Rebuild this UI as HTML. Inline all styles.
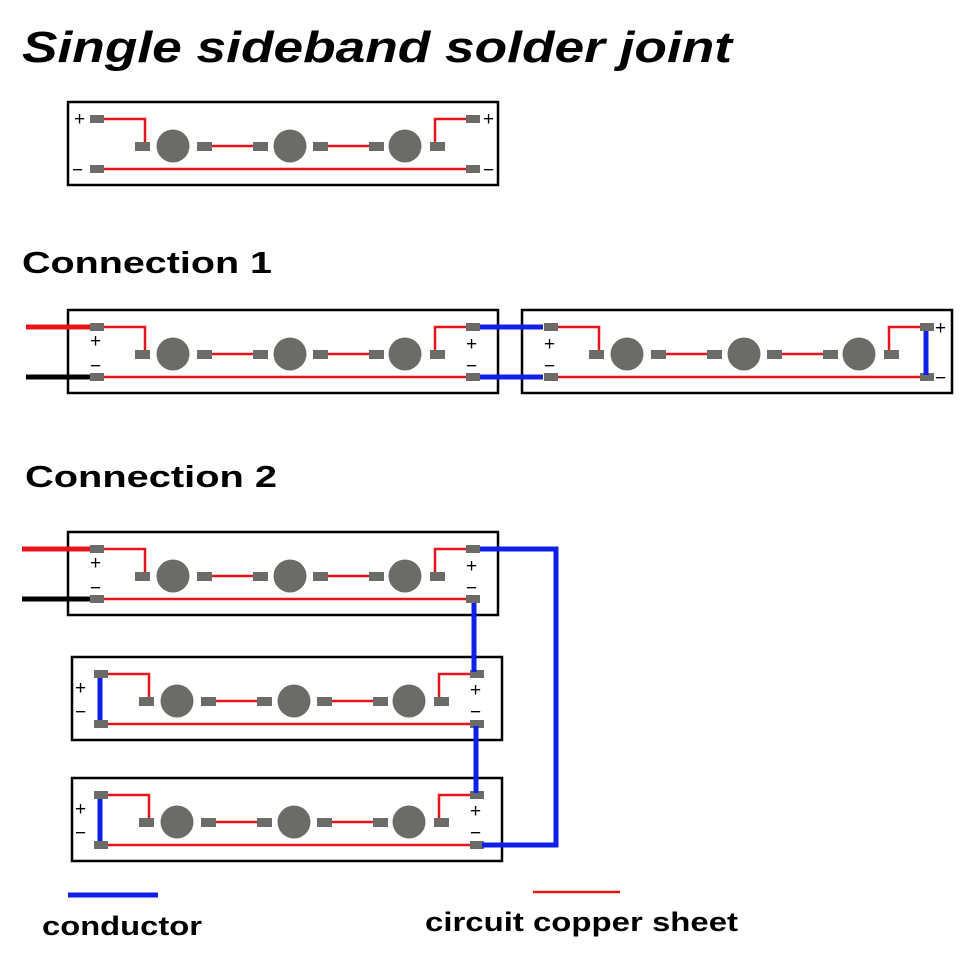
<!DOCTYPE html>
<html><head><meta charset="utf-8"><style>
body{margin:0;background:#fff;}
svg{display:block;}
.t{font-family:"Liberation Sans","DejaVu Sans",sans-serif;font-weight:bold;fill:#000;}
.s{font-family:"Liberation Sans",sans-serif;font-size:19px;fill:#000;}
</style></head><body>
<svg width="960" height="960" viewBox="0 0 960 960" xmlns="http://www.w3.org/2000/svg">
<defs>
<g id="strip">
<rect x="0" y="0" width="430" height="83" fill="#fff" stroke="#000" stroke-width="2.5"/>
<g fill="none" stroke="#e8141b" stroke-width="2.5">
<path d="M36,17 H77 V40"/><path d="M143,44 H185"/><path d="M260,44 H301"/><path d="M367,40 V17 H398"/><path d="M36,67 H398"/>
</g>
<g fill="#6b6b68">
<rect x="22" y="13" width="14" height="8"/><rect x="67" y="40" width="15" height="9"/><rect x="129" y="40" width="15" height="9"/><rect x="185" y="40" width="15" height="9"/><rect x="245" y="40" width="15" height="9"/><rect x="301" y="40" width="15" height="9"/><rect x="362" y="40" width="15" height="9"/><rect x="398" y="13" width="14" height="8"/><rect x="22" y="63" width="14" height="8"/><rect x="398" y="63" width="14" height="8"/>
<circle cx="105" cy="44" r="16.5"/><circle cx="222" cy="44" r="16.5"/><circle cx="337" cy="44" r="16.5"/>
</g>
</g>
</defs>

<text class="t" x="22" y="62" font-size="44" font-style="italic" textLength="710" lengthAdjust="spacingAndGlyphs">Single sideband solder joint</text>

<use href="#strip" x="68" y="102"/>
<text class="s" x="74" y="125">+</text><text class="s" x="72" y="176">−</text>
<text class="s" x="483" y="125">+</text><text class="s" x="483" y="176">−</text>

<text class="t" x="22" y="273" font-size="31" textLength="250" lengthAdjust="spacingAndGlyphs">Connection 1</text>
<use href="#strip" x="68" y="310"/>
<use href="#strip" x="522" y="310"/>
<line x1="26" y1="327" x2="90" y2="327" stroke="#e8141b" stroke-width="5"/>
<line x1="26" y1="377" x2="90" y2="377" stroke="#000" stroke-width="5"/>
<text class="s" x="90" y="347">+</text><text class="s" x="90" y="372">−</text>
<text class="s" x="466" y="350">+</text><text class="s" x="466" y="372">−</text>
<text class="s" x="544" y="350">+</text><text class="s" x="544" y="372">−</text>
<text class="s" x="935" y="334">+</text><text class="s" x="935" y="384">−</text>
<g stroke="#1020e8" stroke-width="5" fill="none">
<path d="M480,327 H543"/><path d="M480,377 H543"/><path d="M926,331 V375"/>
</g>

<text class="t" x="25" y="487" font-size="31" textLength="252" lengthAdjust="spacingAndGlyphs">Connection 2</text>
<use href="#strip" x="68" y="532"/>
<use href="#strip" x="72" y="657"/>
<use href="#strip" x="72" y="778"/>
<line x1="22" y1="549" x2="90" y2="549" stroke="#e8141b" stroke-width="5"/>
<line x1="22" y1="599" x2="90" y2="599" stroke="#000" stroke-width="5"/>
<text class="s" x="90" y="569">+</text><text class="s" x="90" y="594">−</text>
<text class="s" x="466" y="572">+</text><text class="s" x="466" y="594">−</text>
<text class="s" x="75" y="694">+</text><text class="s" x="75" y="718">−</text>
<text class="s" x="470" y="696">+</text><text class="s" x="470" y="718">−</text>
<text class="s" x="75" y="815">+</text><text class="s" x="75" y="839">−</text>
<text class="s" x="470" y="817">+</text><text class="s" x="470" y="839">−</text>
<g stroke="#1020e8" stroke-width="5" fill="none">
<path d="M480,549 H556 V845 H482"/>
<path d="M474,603 V672"/><path d="M476,726 V793"/>
<path d="M100,678 V720"/><path d="M100,799 V841"/>
</g>

<line x1="68" y1="895" x2="158" y2="895" stroke="#1020e8" stroke-width="5"/>
<text class="t" x="42" y="935" font-size="27" textLength="160" lengthAdjust="spacingAndGlyphs">conductor</text>
<line x1="533" y1="892" x2="620" y2="892" stroke="#e8141b" stroke-width="2.5"/>
<text class="t" x="425" y="931" font-size="27" textLength="313" lengthAdjust="spacingAndGlyphs">circuit copper sheet</text>
</svg>
</body></html>
